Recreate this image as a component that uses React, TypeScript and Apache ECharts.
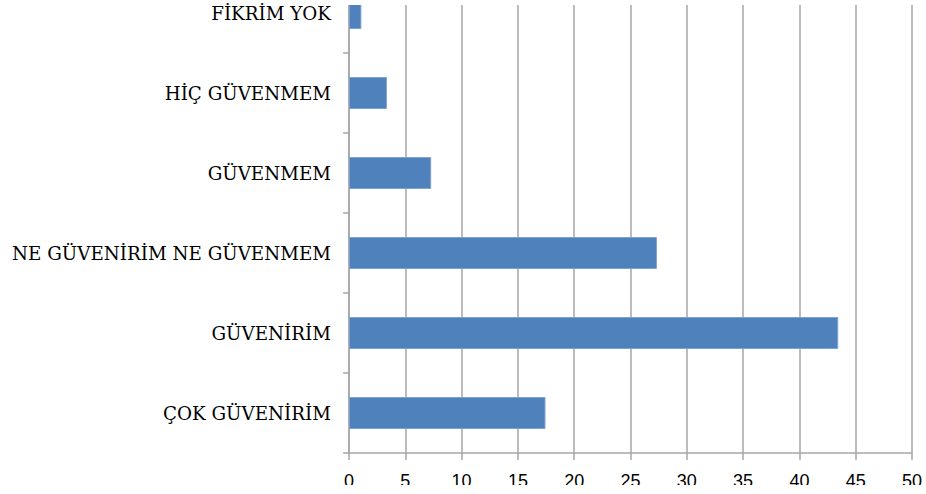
import React, { useEffect, useRef } from "react";
import * as echarts from "echarts";

const categories = [
  "ÇOK GÜVENİRİM",
  "GÜVENİRİM",
  "NE GÜVENİRİM NE GÜVENMEM",
  "GÜVENMEM",
  "HİÇ GÜVENMEM",
  "FİKRİM YOK",
];
const values = [17.45, 43.45, 27.35, 7.3, 3.37, 1.1];
const xMin = 0;
const xMax = 50;
const xStep = 5;

export default function App() {
  const ref = useRef<HTMLDivElement>(null);
  useEffect(() => {
    document.body.style.margin = "0";
    const chart = echarts.init(ref.current!, null, { renderer: "svg" });
    const gray = "#a6a6a6";
    chart.setOption({
      animation: false,
      backgroundColor: "#ffffff",
      grid: { left: 349, right: 14, top: 0, bottom: 41, containLabel: false },
      xAxis: {
        type: "value",
        min: xMin,
        max: xMax,
        interval: xStep,
        axisLine: { show: true, lineStyle: { color: gray, width: 1.5 } },
        axisTick: { show: true, length: 7, lineStyle: { color: gray, width: 1.5 } },
        splitLine: { show: true, lineStyle: { color: gray, width: 1.5 } },
        axisLabel: {
          color: "#000",
          fontFamily: "Liberation Sans",
          fontSize: 18,
          margin: 19,
        },
      },
      yAxis: {
        type: "category",
        data: categories,
        axisLine: { show: true, lineStyle: { color: gray, width: 1.5 } },
        axisTick: { show: true, length: 6, interval: 0, lineStyle: { color: gray, width: 1.5 } },
        axisLabel: {
          color: "#000",
          fontFamily: "DejaVu Serif",
          fontSize: 18.3,
          margin: 18,
        },
      },
      graphic: [
        {
          type: "rect",
          z: 100,
          shape: { x: 338, y: 0, width: 600, height: 32 },
          style: { fill: "#ffffff" },
          silent: true,
        },
        {
          type: "rect",
          z: 100,
          shape: { x: 0, y: 512, width: 926, height: 10 },
          style: { fill: "#ffffff" },
          silent: true,
        },
      ],
      series: [
        {
          type: "bar",
          data: values,
          barCategoryGap: "60%",
          itemStyle: { color: "#4F81BD", borderColor: "#7FA3CF", borderWidth: 1 },
        },
      ],
    });
    return () => chart.dispose();
  }, []);
  return (
    <div style={{ width: 926, height: 494, overflow: "hidden", position: "relative" }}>
      <div ref={ref} style={{ position: "absolute", left: 0, top: -27, width: 926, height: 521 }} />
    </div>
  );
}
